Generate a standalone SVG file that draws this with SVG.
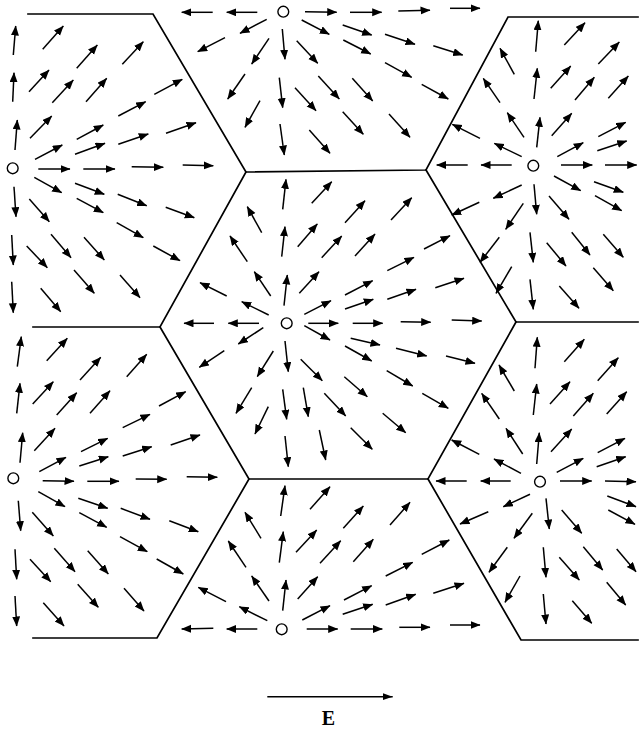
<svg xmlns="http://www.w3.org/2000/svg" width="642" height="730" viewBox="0 0 642 730">
<style>
.hex{fill:none;stroke:#000;stroke-width:1.7;stroke-linecap:square}
.a line{stroke:#000;stroke-width:1.5;marker-end:url(#ah)}
.src{fill:#fff;stroke:#000;stroke-width:1.4}
.lbl{font-family:"Liberation Serif","Times New Roman",serif;font-weight:bold;font-size:20px;fill:#000}
</style>
<defs>
<marker id="ah" markerUnits="userSpaceOnUse" markerWidth="11" markerHeight="9" refX="9.5" refY="4" orient="auto">
<path d="M0,0 L10,4 L0,8 z" fill="#000"/>
</marker>
<marker id="ahE" markerUnits="userSpaceOnUse" markerWidth="12" markerHeight="8" refX="10" refY="3.5" orient="auto">
<path d="M0,0 L10,3.5 L0,7 z" fill="#000"/>
</marker>
</defs>
<rect width="642" height="730" fill="#fff"/>
<g id="boundaries" class="hex">
<polyline points="28,14 153,14 246,172 160,327 33,327"/>
<polyline points="246,172 426,170 508,17 638,17"/>
<polyline points="426,170 516,322 638,322"/>
<polyline points="160,327 249,479 157,638 33,638"/>
<polyline points="516,322 428,479 249,479"/>
<polyline points="428,479 521,640 638,640"/>
</g>
<g id="cell-center" class="a">
<line x1="282.7" y1="209.3" x2="286" y2="179.3"/>
<line x1="311.7" y1="203.3" x2="331.7" y2="181.7"/>
<line x1="261.7" y1="232.7" x2="247.3" y2="206.7"/>
<line x1="281.7" y1="256.7" x2="285" y2="226.7"/>
<line x1="297.7" y1="246.7" x2="317.3" y2="224"/>
<line x1="345" y1="222.7" x2="365" y2="200.7"/>
<line x1="391" y1="220" x2="411.7" y2="197.7"/>
<line x1="247.3" y1="261.7" x2="230" y2="236"/>
<line x1="321.7" y1="257.7" x2="341.7" y2="236"/>
<line x1="355" y1="256" x2="375" y2="234"/>
<line x1="424" y1="249" x2="450" y2="235.7"/>
<line x1="270.7" y1="296" x2="254.3" y2="271.7"/>
<line x1="284" y1="305.7" x2="287.3" y2="275"/>
<line x1="299.3" y1="293.3" x2="319" y2="271.7"/>
<line x1="387.3" y1="270.7" x2="414" y2="257.3"/>
<line x1="226.7" y1="296" x2="200" y2="282.7"/>
<line x1="268.7" y1="315" x2="241.7" y2="301.7"/>
<line x1="304.3" y1="314.3" x2="331" y2="300.7"/>
<line x1="345" y1="295" x2="372.7" y2="280.7"/>
<line x1="345" y1="309" x2="373.3" y2="299.3"/>
<line x1="387.3" y1="299.3" x2="416" y2="289.3"/>
<line x1="435.3" y1="287.7" x2="464" y2="278.3"/>
<line x1="214" y1="323.3" x2="184" y2="323.3"/>
<line x1="259" y1="323.3" x2="228.3" y2="323.3"/>
<line x1="308.3" y1="323.3" x2="338.3" y2="323.3"/>
<line x1="352.7" y1="323.3" x2="382.7" y2="323.3"/>
<line x1="400.7" y1="321.7" x2="430.7" y2="322.3"/>
<line x1="451.7" y1="320" x2="481.7" y2="321"/>
<line x1="263.3" y1="327.7" x2="238.3" y2="344"/>
<line x1="304.3" y1="325.7" x2="330" y2="340"/>
<line x1="350.7" y1="338.3" x2="380" y2="345"/>
<line x1="396" y1="348.3" x2="426.7" y2="356"/>
<line x1="446" y1="356" x2="475" y2="363.3"/>
<line x1="224.3" y1="350.7" x2="199.3" y2="367.3"/>
<line x1="285" y1="341" x2="288.3" y2="371.7"/>
<line x1="273.3" y1="351" x2="257.3" y2="376.7"/>
<line x1="345" y1="346" x2="371.7" y2="361"/>
<line x1="300.7" y1="359.3" x2="322.3" y2="380.7"/>
<line x1="386.7" y1="370.7" x2="412.7" y2="386"/>
<line x1="422.3" y1="393.3" x2="448.3" y2="408.3"/>
<line x1="344.3" y1="376.7" x2="367.3" y2="396.7"/>
<line x1="251.7" y1="387.7" x2="236" y2="413.3"/>
<line x1="282.7" y1="389.3" x2="286.7" y2="419.3"/>
<line x1="303.3" y1="387.7" x2="308.3" y2="416.7"/>
<line x1="324.3" y1="393.3" x2="345.7" y2="416"/>
<line x1="382.7" y1="413.3" x2="405.7" y2="432.7"/>
<line x1="268.3" y1="406.7" x2="255" y2="434"/>
<line x1="285" y1="436" x2="288.3" y2="466.7"/>
<line x1="319.3" y1="430" x2="325.7" y2="460"/>
<line x1="350.7" y1="427.7" x2="372.3" y2="449.3"/>
</g>
<g id="cell-left" class="a">
<line x1="13.3" y1="55" x2="15.7" y2="26"/>
<line x1="12.7" y1="101.7" x2="14" y2="72.7"/>
<line x1="15" y1="150" x2="17.3" y2="120"/>
<line x1="14" y1="186.7" x2="16" y2="216.7"/>
<line x1="11.7" y1="235" x2="13.3" y2="265"/>
<line x1="11.7" y1="281.7" x2="13.3" y2="312.7"/>
<line x1="42.7" y1="49.3" x2="63.3" y2="26"/>
<line x1="76.7" y1="68.3" x2="97.3" y2="45"/>
<line x1="122.3" y1="64.3" x2="143.3" y2="41.7"/>
<line x1="29" y1="91.7" x2="49" y2="70"/>
<line x1="52.3" y1="102.7" x2="73.3" y2="80"/>
<line x1="86" y1="101.7" x2="106.7" y2="78.3"/>
<line x1="154.3" y1="94.3" x2="182.3" y2="79.3"/>
<line x1="30" y1="138.3" x2="51.7" y2="116"/>
<line x1="118.3" y1="116" x2="145.7" y2="101.7"/>
<line x1="76.7" y1="139.3" x2="103.3" y2="125"/>
<line x1="166" y1="133.3" x2="196" y2="122.7"/>
<line x1="35" y1="159.3" x2="62.3" y2="145"/>
<line x1="75" y1="154.3" x2="105" y2="143.3"/>
<line x1="118.3" y1="144.3" x2="148.3" y2="134"/>
<line x1="38.3" y1="169" x2="70" y2="169"/>
<line x1="83.3" y1="169" x2="115" y2="169"/>
<line x1="131.7" y1="166.7" x2="163.3" y2="167.3"/>
<line x1="182.7" y1="165" x2="213.3" y2="165.7"/>
<line x1="34.3" y1="177.3" x2="61.7" y2="192.7"/>
<line x1="75" y1="183.3" x2="104.3" y2="194.3"/>
<line x1="76.7" y1="198.3" x2="103.3" y2="212.7"/>
<line x1="117.7" y1="194.3" x2="146.7" y2="205.7"/>
<line x1="165.7" y1="207.3" x2="194.3" y2="217.7"/>
<line x1="29.3" y1="199" x2="49.3" y2="221.7"/>
<line x1="116.7" y1="222.7" x2="143.3" y2="237.7"/>
<line x1="26.7" y1="246" x2="47.3" y2="267.7"/>
<line x1="51" y1="234.3" x2="71" y2="257.7"/>
<line x1="84" y1="237.3" x2="104.3" y2="260"/>
<line x1="153.3" y1="246" x2="180" y2="260.7"/>
<line x1="74" y1="270" x2="94.3" y2="293.3"/>
<line x1="120" y1="275" x2="140" y2="297.7"/>
<line x1="40.7" y1="288.3" x2="60.7" y2="311.7"/>
</g>
<g id="cell-bottom-left" class="a">
<line x1="17.3" y1="366.7" x2="21.3" y2="336.7"/>
<line x1="16.7" y1="413.3" x2="20" y2="383.3"/>
<line x1="20" y1="462.7" x2="22.7" y2="432.7"/>
<line x1="18.3" y1="500.7" x2="20.7" y2="530.7"/>
<line x1="15" y1="549.3" x2="16.7" y2="579.3"/>
<line x1="15" y1="596" x2="16.7" y2="626"/>
<line x1="46.7" y1="360.7" x2="67.3" y2="338.3"/>
<line x1="80" y1="380" x2="100.7" y2="357.3"/>
<line x1="126.7" y1="376.7" x2="146.7" y2="354.3"/>
<line x1="32.7" y1="404" x2="53.3" y2="381.7"/>
<line x1="56.7" y1="415" x2="76.7" y2="392.7"/>
<line x1="90" y1="413.3" x2="110" y2="390.7"/>
<line x1="159" y1="406" x2="185.7" y2="391.7"/>
<line x1="34.3" y1="450.7" x2="55" y2="428.3"/>
<line x1="122.7" y1="427.7" x2="150" y2="414.3"/>
<line x1="81" y1="451.7" x2="107.7" y2="438.3"/>
<line x1="170.7" y1="445" x2="200" y2="435"/>
<line x1="39.3" y1="471.7" x2="66" y2="457.3"/>
<line x1="79.3" y1="466" x2="108.3" y2="456.7"/>
<line x1="122.7" y1="456" x2="151.7" y2="446.7"/>
<line x1="42.7" y1="480.7" x2="74" y2="481.3"/>
<line x1="87.3" y1="481.3" x2="119" y2="481.3"/>
<line x1="135.7" y1="479" x2="166.7" y2="479.3"/>
<line x1="186.7" y1="476.7" x2="217.3" y2="477.3"/>
<line x1="38.3" y1="491.7" x2="65" y2="506.7"/>
<line x1="78.3" y1="498.3" x2="107.7" y2="508.3"/>
<line x1="79.3" y1="512.7" x2="106.7" y2="527.3"/>
<line x1="120.7" y1="508.3" x2="150" y2="519.3"/>
<line x1="169.3" y1="520.7" x2="198.3" y2="531.7"/>
<line x1="32.3" y1="512.3" x2="53.3" y2="536"/>
<line x1="120" y1="536.7" x2="147.3" y2="551.7"/>
<line x1="30" y1="559.3" x2="50.7" y2="581.7"/>
<line x1="54.3" y1="548.3" x2="75" y2="571.7"/>
<line x1="87.7" y1="550.7" x2="108.3" y2="574"/>
<line x1="156.7" y1="559" x2="183.3" y2="574"/>
<line x1="77.7" y1="584.3" x2="98.3" y2="607.3"/>
<line x1="124" y1="588.3" x2="144" y2="611"/>
<line x1="43.3" y1="602.7" x2="64" y2="626"/>
</g>
<g id="cell-top-right" class="a">
<line x1="535.7" y1="51.7" x2="538.3" y2="20.7"/>
<line x1="564.3" y1="45" x2="585" y2="22.7"/>
<line x1="514.3" y1="74.3" x2="500" y2="48.3"/>
<line x1="598.3" y1="64" x2="619.3" y2="42"/>
<line x1="534" y1="99" x2="537.3" y2="68.3"/>
<line x1="550.7" y1="88.3" x2="570.7" y2="66"/>
<line x1="575" y1="100" x2="594.3" y2="77.3"/>
<line x1="500" y1="102.7" x2="483.3" y2="78.3"/>
<line x1="608.3" y1="98.3" x2="628.3" y2="76"/>
<line x1="524" y1="137.3" x2="507.3" y2="112.7"/>
<line x1="536.7" y1="147.3" x2="540" y2="117.3"/>
<line x1="551.7" y1="135.7" x2="571.7" y2="113.3"/>
<line x1="480" y1="138.3" x2="452.3" y2="124.3"/>
<line x1="521.7" y1="156.7" x2="494.3" y2="143.3"/>
<line x1="557.3" y1="156.7" x2="583.3" y2="142.7"/>
<line x1="598.3" y1="136.7" x2="625.7" y2="122.3"/>
<line x1="597.3" y1="150.7" x2="626.7" y2="141"/>
<line x1="467.7" y1="165" x2="436.7" y2="165"/>
<line x1="511.7" y1="165" x2="481" y2="165"/>
<line x1="561" y1="165" x2="592.3" y2="165"/>
<line x1="605" y1="165" x2="636.7" y2="165"/>
<line x1="521.7" y1="185" x2="493.3" y2="198.3"/>
<line x1="554" y1="176" x2="580.7" y2="190.7"/>
<line x1="594" y1="181.7" x2="623.3" y2="192.3"/>
<line x1="595" y1="195.7" x2="621.7" y2="210.7"/>
<line x1="479.3" y1="202.3" x2="451.7" y2="215"/>
<line x1="534" y1="184.3" x2="536.7" y2="214.3"/>
<line x1="523.3" y1="203.3" x2="505.7" y2="229.3"/>
<line x1="549" y1="196" x2="569" y2="219.3"/>
<line x1="571.7" y1="232.3" x2="590" y2="255"/>
<line x1="603.3" y1="234.3" x2="623.3" y2="257.3"/>
<line x1="499.3" y1="237.3" x2="480" y2="262.3"/>
<line x1="530" y1="232.3" x2="533.3" y2="262.3"/>
<line x1="546.7" y1="242.7" x2="566" y2="266"/>
<line x1="511.7" y1="266.7" x2="496" y2="293.3"/>
<line x1="593.3" y1="267.7" x2="613.3" y2="290.7"/>
<line x1="530" y1="279.3" x2="533.3" y2="309.3"/>
<line x1="559.3" y1="286" x2="579" y2="308.3"/>
</g>
<g id="cell-bottom-right" class="a">
<line x1="535" y1="368.3" x2="537.3" y2="337.3"/>
<line x1="564.3" y1="361.7" x2="584.3" y2="339.3"/>
<line x1="514.3" y1="391" x2="499" y2="365"/>
<line x1="597.7" y1="380.7" x2="618.3" y2="357.7"/>
<line x1="533.3" y1="415" x2="536.7" y2="384"/>
<line x1="550" y1="404" x2="570" y2="381.7"/>
<line x1="573.3" y1="416" x2="593.3" y2="393.3"/>
<line x1="499.3" y1="419" x2="481.7" y2="393.3"/>
<line x1="606.7" y1="414" x2="626.7" y2="391.7"/>
<line x1="522.7" y1="454" x2="506" y2="428.3"/>
<line x1="536.7" y1="464" x2="539.3" y2="432.7"/>
<line x1="551" y1="451.7" x2="571.7" y2="429"/>
<line x1="479.3" y1="454.3" x2="451.7" y2="440"/>
<line x1="521" y1="473.3" x2="494" y2="459"/>
<line x1="556.7" y1="472.3" x2="583.3" y2="458.3"/>
<line x1="597.7" y1="452.7" x2="625" y2="438.3"/>
<line x1="596.7" y1="466.7" x2="625.7" y2="456.7"/>
<line x1="466.7" y1="481" x2="436" y2="481"/>
<line x1="510.7" y1="481" x2="480.7" y2="481"/>
<line x1="560" y1="481" x2="591.7" y2="481"/>
<line x1="605" y1="481" x2="636" y2="481.7"/>
<line x1="530" y1="494.3" x2="503.3" y2="506.7"/>
<line x1="561.7" y1="510" x2="581.7" y2="533.3"/>
<line x1="607.3" y1="496" x2="636" y2="506.7"/>
<line x1="608.3" y1="510" x2="635" y2="524.3"/>
<line x1="488.3" y1="511.7" x2="460" y2="524"/>
<line x1="546" y1="498.3" x2="549.3" y2="529"/>
<line x1="532.3" y1="513.3" x2="514" y2="538.3"/>
<line x1="583.3" y1="546.7" x2="602.7" y2="570"/>
<line x1="616.7" y1="549" x2="636" y2="571.7"/>
<line x1="507.3" y1="547.3" x2="489" y2="572.3"/>
<line x1="543.3" y1="547.3" x2="546" y2="577.3"/>
<line x1="559.3" y1="557.3" x2="579.3" y2="580"/>
<line x1="520" y1="576" x2="505" y2="602.3"/>
<line x1="606.7" y1="582.3" x2="625.7" y2="605"/>
<line x1="543.3" y1="594" x2="546" y2="624"/>
<line x1="572.3" y1="600.7" x2="591.7" y2="623.3"/>
</g>
<g id="cell-top" class="a">
<line x1="212.7" y1="12.3" x2="181.7" y2="12.3"/>
<line x1="257.3" y1="12.3" x2="226.7" y2="12.3"/>
<line x1="305" y1="11.7" x2="336.7" y2="12.3"/>
<line x1="350" y1="12.3" x2="381.7" y2="12.3"/>
<line x1="398.3" y1="11" x2="430" y2="10.3"/>
<line x1="450" y1="8.3" x2="480" y2="8.3"/>
<line x1="266.7" y1="19.3" x2="240" y2="33.3"/>
<line x1="301.7" y1="20" x2="329.3" y2="34.3"/>
<line x1="342.7" y1="25" x2="371.7" y2="35"/>
<line x1="385" y1="34.3" x2="415" y2="44.3"/>
<line x1="433.3" y1="45.7" x2="462.7" y2="55"/>
<line x1="225" y1="37.7" x2="197.7" y2="51.7"/>
<line x1="269" y1="38.3" x2="251.7" y2="64"/>
<line x1="282.3" y1="29" x2="285" y2="59.3"/>
<line x1="296.7" y1="40.7" x2="317.7" y2="63.3"/>
<line x1="343.3" y1="40" x2="370.7" y2="54"/>
<line x1="385" y1="62.7" x2="411.7" y2="77.3"/>
<line x1="421.7" y1="84.3" x2="448.3" y2="99"/>
<line x1="245" y1="74" x2="227.7" y2="99"/>
<line x1="279.3" y1="77.7" x2="282.7" y2="107.7"/>
<line x1="295" y1="87.7" x2="316" y2="110.7"/>
<line x1="318.3" y1="76" x2="339.3" y2="99"/>
<line x1="352.3" y1="78.3" x2="372.7" y2="101"/>
<line x1="260" y1="100.7" x2="245" y2="127.3"/>
<line x1="342.7" y1="111.7" x2="363.3" y2="134.3"/>
<line x1="389" y1="114" x2="410" y2="137.3"/>
<line x1="280" y1="124" x2="284.3" y2="155"/>
<line x1="309.3" y1="130" x2="330" y2="153.3"/>
</g>
<g id="cell-bottom" class="a">
<line x1="280.7" y1="516" x2="285" y2="485.7"/>
<line x1="310" y1="509.3" x2="330" y2="486.7"/>
<line x1="261" y1="538.3" x2="245" y2="512.3"/>
<line x1="343.3" y1="528.3" x2="363.3" y2="506"/>
<line x1="390" y1="525" x2="410" y2="502.3"/>
<line x1="279.3" y1="562.7" x2="283.3" y2="531.7"/>
<line x1="296" y1="552.3" x2="316.7" y2="530"/>
<line x1="246" y1="567.3" x2="228.3" y2="541"/>
<line x1="320" y1="563.3" x2="340.7" y2="540.7"/>
<line x1="353.3" y1="561.7" x2="373.3" y2="539.3"/>
<line x1="421.7" y1="554.3" x2="449.3" y2="540"/>
<line x1="269" y1="601" x2="251.7" y2="576"/>
<line x1="282.7" y1="610.7" x2="286" y2="580"/>
<line x1="297.7" y1="599" x2="317.7" y2="576.7"/>
<line x1="385.7" y1="576" x2="412.7" y2="562.3"/>
<line x1="226" y1="601.7" x2="198.3" y2="587.3"/>
<line x1="267.3" y1="620.7" x2="239.3" y2="606.7"/>
<line x1="302.3" y1="620" x2="330" y2="605.7"/>
<line x1="344" y1="600" x2="371.7" y2="585.7"/>
<line x1="342.7" y1="614.3" x2="372.7" y2="604.3"/>
<line x1="385.7" y1="605" x2="415.7" y2="594.3"/>
<line x1="433.3" y1="593.3" x2="464" y2="583.3"/>
<line x1="213.3" y1="628.3" x2="181.7" y2="629"/>
<line x1="257.3" y1="629" x2="226.7" y2="629"/>
<line x1="306.7" y1="629" x2="337.7" y2="629"/>
<line x1="350.7" y1="629" x2="382.3" y2="629"/>
<line x1="399.3" y1="627.3" x2="430" y2="627.3"/>
<line x1="450" y1="625" x2="480" y2="625"/>
</g>
<g id="sources">
<circle class="src" cx="286.7" cy="323.3" r="5.4"/>
<circle class="src" cx="283.3" cy="11.7" r="5.4"/>
<circle class="src" cx="12.7" cy="168.3" r="5.4"/>
<circle class="src" cx="533.3" cy="165.7" r="5.4"/>
<circle class="src" cx="13.3" cy="478.3" r="5.4"/>
<circle class="src" cx="540" cy="481.7" r="5.4"/>
<circle class="src" cx="281.7" cy="629.3" r="5.4"/>
</g>
<g id="field-legend">
<line x1="267.3" y1="696.7" x2="392.7" y2="696.7" stroke="#000" stroke-width="1.6" marker-end="url(#ahE)"/>
<text class="lbl" x="328.5" y="724.5" text-anchor="middle">E</text>
</g>
</svg>
